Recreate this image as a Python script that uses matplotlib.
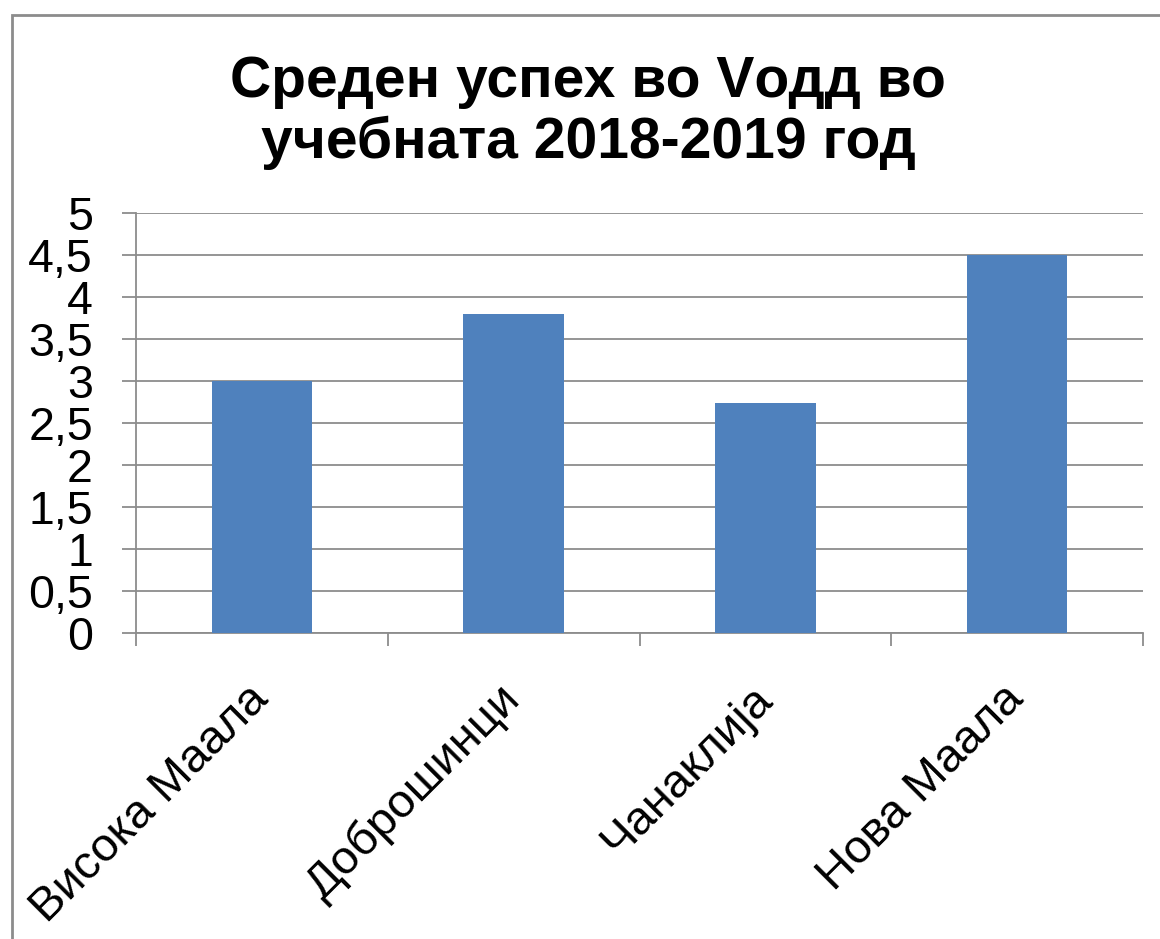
import matplotlib
matplotlib.use("Agg")
from matplotlib import pyplot as plt
from matplotlib.patches import Rectangle
import numpy as np

# chart data
villages = ["Висока Маала", "Доброшинци", "Чанаклија", "Нова Маала"]
average_grade = [3.0, 3.8, 2.74, 4.5]
y_ticks = [0, 0.5, 1, 1.5, 2, 2.5, 3, 3.5, 4, 4.5, 5]
y_tick_labels = ["0", "0,5", "1", "1,5", "2", "2,5", "3", "3,5", "4", "4,5", "5"]
title_lines = ["Среден успех во Vодд во", "учебната 2018-2019 год"]

plt.rcParams["font.family"] = ["Liberation Sans", "DejaVu Sans"]

fig = plt.figure(figsize=(11.6, 9.39), dpi=100)
ax = fig.add_axes([136/1160, 1 - 633/939, (1143 - 136)/1160, (633 - 213)/939])

grid_col = "#8c8c8c"
x = np.arange(len(villages))
ax.bar(x, average_grade, width=0.4, color="#4f81bd", zorder=3)

ax.set_xlim(-0.5, len(villages) - 0.5)
ax.set_ylim(0, 5)
ax.set_yticks(y_ticks)
ax.set_yticklabels(y_tick_labels, fontsize=33.5)
ax.tick_params(axis="y", length=10, width=1.3, color=grid_col, pad=21)

# category labels: rotated, their right end near the category centre
ax.set_xticks(x)
ax.set_xticklabels(villages, fontsize=34, rotation=45, ha="right", va="center",
                   rotation_mode="anchor")
ax.tick_params(axis="x", which="major", length=0, pad=43)
# tick marks sit between the categories
ax.set_xticks(np.arange(len(villages) + 1) - 0.5, minor=True)
ax.tick_params(axis="x", which="minor", length=9, width=1.3, color=grid_col)

ax.yaxis.grid(True, color=grid_col, linewidth=1.3, zorder=0)
for side in ["top", "right"]:
    ax.spines[side].set_visible(False)
ax.spines["left"].set_color(grid_col)
ax.spines["bottom"].set_color(grid_col)
ax.spines["left"].set_linewidth(1.3)
ax.spines["bottom"].set_linewidth(1.3)

# two title lines, placed by their baselines
fig.text(588/1160, 1 - 97/939, title_lines[0], ha="center", va="baseline", fontsize=41,
         fontweight="bold")
fig.text(588/1160, 1 - 158/939, title_lines[1], ha="center", va="baseline", fontsize=41,
         fontweight="bold")

# outer frame of the chart
fig.patches.append(Rectangle((12/1160, -0.05), 1.1, 1 - 15/939 + 0.05, transform=fig.transFigure,
                             fill=False, edgecolor="#8c8c8c", linewidth=2))

fig.savefig("out.png", dpi=100)
plt.close()
